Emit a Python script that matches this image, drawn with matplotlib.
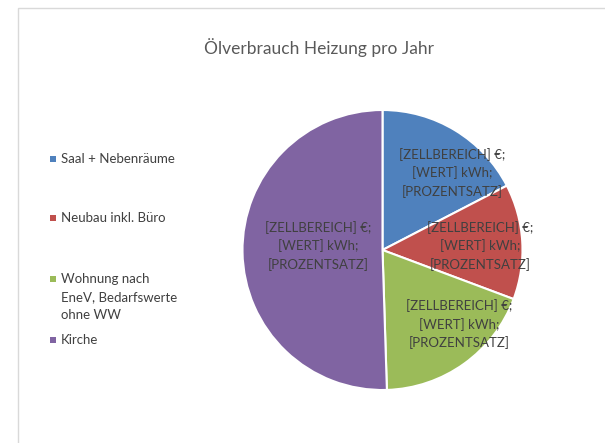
import matplotlib
matplotlib.use("Agg")
import matplotlib.pyplot as plt
from matplotlib.patches import Rectangle
import numpy as np

plt.rcParams['font.family'] = ['Lato', 'DejaVu Sans']

title = "Ölverbrauch Heizung pro Jahr"
categories = ["Saal + Nebenräume", "Neubau inkl. Büro",
              "Wohnung nach\nEneV, Bedarfswerte\nohne WW", "Kirche"]
values = [17.4, 13.3, 18.8, 50.5]
colors = ["#4f81bd", "#c0504d", "#9bbb59", "#8064a2"]
label_text = "[ZELLBEREICH] €;\n[WERT] kWh;\n[PROZENTSATZ]"

W, H = 605, 443
fig = plt.figure(figsize=(W / 100, H / 100), dpi=100)
fig.patch.set_facecolor("white")

# chart border
fig.patches.append(Rectangle((18 / W, -0.05), 1.2, (H - 8) / H + 0.05,
                             transform=fig.transFigure, fill=False,
                             edgecolor="#d9d9d9", linewidth=1.0))

cx, cy, r = 382.5, 250, 140
ax = fig.add_axes([(cx - r) / W, 1 - (cy + r) / H, 2 * r / W, 2 * r / H])
wedges, texts = ax.pie(values, colors=colors, startangle=90, counterclock=False,
                       labels=[label_text] * len(values), labeldistance=0.75,
                       wedgeprops=dict(edgecolor="white", linewidth=1.5),
                       textprops=dict(fontsize=9.5, color="#404040",
                                      ha="center", va="center",
                                      multialignment="center",
                                      linespacing=1.5))
ax.set_aspect("equal")
ax.set_xlim(-1, 1)
ax.set_ylim(-1, 1)

# adjust label placement (best-fit style)
adj = [(0.50, 0.55), (0.70, 0.03), (0.55, -0.53), (-0.46, 0.03)]
for t, (x, y) in zip(texts, adj):
    t.set_position((x, y))
    t.set_ha("center")

fig.text(319.5 / W, 1 - 48 / H, title, ha="center", va="center",
         fontsize=12.5, color="#595959")

# legend
leg_y = [159, 218, 279, 340]
for c, cat, y in zip(colors, categories, leg_y):
    fig.patches.append(Rectangle((50 / W, 1 - (y + 3) / H), 6 / W, 6 / H,
                                 transform=fig.transFigure,
                                 facecolor=c, edgecolor="none"))
    fig.text(61 / W, 1 - (y - 6) / H, cat, ha="left", va="top",
             fontsize=9.5, color="#404040", linespacing=1.6)

fig.savefig("out.png", dpi=100, facecolor="white")
